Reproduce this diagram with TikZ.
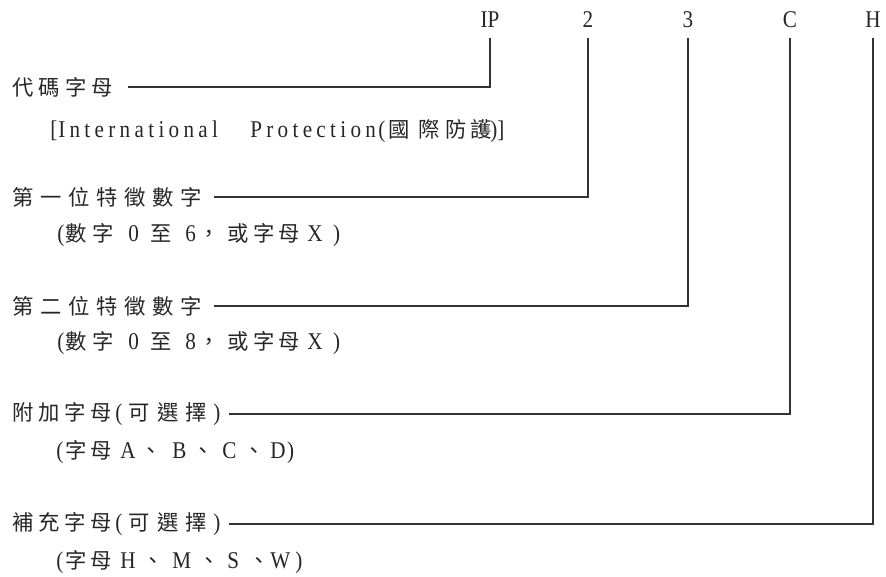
\documentclass[tikz,border=0pt]{standalone}
\usepackage{fontspec}
\setmainfont{Liberation Serif}[FakeStretch=0.88]
\newfontfamily\spf{Liberation Serif}[FakeStretch=0.88,LetterSpace=18]
\newfontfamily\cj{Noto Sans CJK TC}[Scale=0.889]
\newlength\pxu
\setlength\pxu{0.75pt}
\newcommand\bx[2]{\makebox[#1\pxu][l]{#2}}
\newcommand\ch[2]{\makebox[#1\pxu][l]{\cj #2}}
\begin{document}
\begin{tikzpicture}[x=0.75pt,y=-0.75pt,
  every node/.style={inner sep=0pt,text=black!85},
  lbl/.style={anchor=west,font=\fontsize{18}{20}\selectfont},
  toplbl/.style={font=\fontsize{18}{20}\selectfont},
  conn/.style={draw=black!80,line width=0.9pt,shorten >=7.5pt}]
\useasboundingbox (0,0) rectangle (886,576);
% top code letters
\node[toplbl] (ip) at (490,20) {IP};
\node[toplbl] (n2) at (588,20) {2};
\node[toplbl] (n3) at (688,20) {3};
\node[toplbl] (nc) at (790,20) {C};
\node[toplbl] (nh) at (873,20) {H};
% row 1
\node[lbl] (a1) at (12,87) {\ch{26.5}{代}\ch{26.5}{碼}\ch{26.5}{字}{\cj 母}};
\node[lbl] (b1) at (50,131) {\bx{8}{[}\bx{192}{\spf International}\bx{128}{\spf Protection}\bx{10}{(}\ch{30}{國}\ch{27}{際}\ch{25}{防}\ch{20}{護}\bx{7}{)}]};
% row 2
\node[lbl] (a2) at (12,197) {\ch{28}{第}\ch{28}{一}\ch{28}{位}\ch{28}{特}\ch{28}{徵}\ch{28}{數}{\cj 字}};
\node[lbl] (b2) at (57,235) {\bx{8}{(}\ch{27}{數}\ch{36}{字}\bx{22}{0}\ch{35}{至}\bx{13}{6}\ch{29}{，}\ch{26}{或}\ch{25}{字}\ch{29}{母}\bx{26}{X})};
% row 3
\node[lbl] (a3) at (12,306) {\ch{28}{第}\ch{28}{二}\ch{28}{位}\ch{28}{特}\ch{28}{徵}\ch{28}{數}{\cj 字}};
\node[lbl] (b3) at (57,343) {\bx{8}{(}\ch{27}{數}\ch{36}{字}\bx{22}{0}\ch{35}{至}\bx{13}{8}\ch{29}{，}\ch{26}{或}\ch{25}{字}\ch{29}{母}\bx{26}{X})};
% row 4
\node[lbl] (a4) at (12,414) {\ch{26}{附}\ch{26}{加}\ch{26}{字}\ch{25}{母}\bx{13}{(}\ch{29}{可}\ch{28}{選}\ch{28}{擇})};
\node[lbl] (b4) at (56,452) {\bx{9}{(}\ch{25}{字}\ch{30}{母}\bx{20}{A}\ch{32}{、}\bx{20}{B}\ch{30}{、}\bx{21}{C}\ch{27}{、}\bx{17}{D})};
% row 5
\node[lbl] (a5) at (12,524) {\ch{26}{補}\ch{26}{充}\ch{26}{字}\ch{25}{母}\bx{13}{(}\ch{29}{可}\ch{28}{選}\ch{28}{擇})};
\node[lbl] (b5) at (56,562) {\bx{9}{(}\ch{25}{字}\ch{30}{母}\bx{22}{H}\ch{30}{、}\bx{26}{M}\ch{29}{、}\bx{21}{S}\ch{22}{、}\bx{25}{W})};
% connectors
\draw[conn,shorten <=11pt] (a1.east) -| (ip.south);
\draw[conn,shorten <=9pt] (a2.east) -| (n2.south);
\draw[conn,shorten <=9pt] (a3.east) -| (n3.south);
\draw[conn,shorten <=6.5pt] (a4.east) -| (nc.south);
\draw[conn,shorten <=6.5pt] (a5.east) -| (nh.south);
\end{tikzpicture}
\end{document}
